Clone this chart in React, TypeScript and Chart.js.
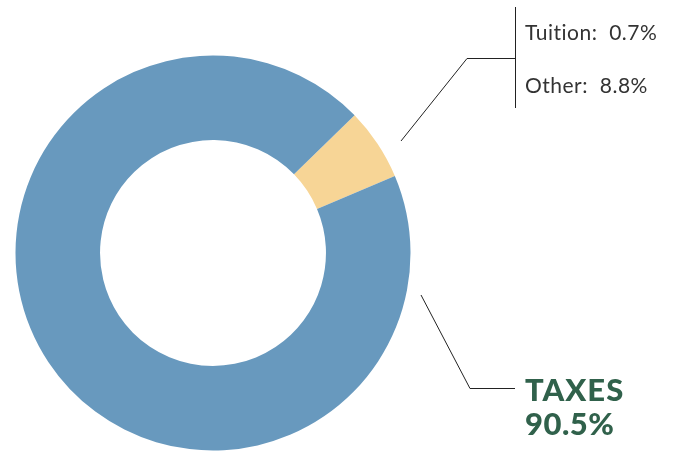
import { useEffect, useRef } from 'react';
import { Chart, registerables } from 'chart.js';
Chart.register(...registerables);

// Slice sizes as drawn in the picture (percent of the ring)
const categories = ['Other', 'Taxes'];
const drawnShares = [5.9, 94.1];
const sliceColors = ['#F7D596', '#6899BE'];

// Callout texts
const smallLabels = ['Tuition:  0.7%', 'Other:  8.8%'];
const taxesLabels = ['TAXES', '90.5%'];

const calloutPlugin = {
  id: 'callouts',
  afterDraw(chart: any) {
    const ctx = chart.ctx as CanvasRenderingContext2D;
    ctx.save();
    ctx.strokeStyle = '#222222';
    ctx.lineWidth = 1;
    // upper leader
    ctx.beginPath();
    ctx.moveTo(401, 141);
    ctx.lineTo(467, 58.5);
    ctx.lineTo(515, 58.5);
    ctx.stroke();
    ctx.beginPath();
    ctx.moveTo(515.5, 7);
    ctx.lineTo(515.5, 108);
    ctx.stroke();
    // lower leader
    ctx.beginPath();
    ctx.moveTo(421, 295);
    ctx.lineTo(470, 388.5);
    ctx.lineTo(515, 388.5);
    ctx.stroke();

    ctx.textBaseline = 'alphabetic';
    ctx.textAlign = 'left';
    ctx.fillStyle = '#333333';
    ctx.font = '21px Lato';
    (ctx as any).letterSpacing = '0.5px';
    ctx.fillText(smallLabels[0], 525, 40);
    ctx.fillText(smallLabels[1], 525, 93);

    ctx.fillStyle = '#30614B';
    ctx.font = '900 31px Lato';
    (ctx as any).letterSpacing = '1px';
    ctx.fillText(taxesLabels[0], 525, 401);
    (ctx as any).letterSpacing = '0.5px';
    ctx.fillText(taxesLabels[1], 525, 435);
    ctx.restore();
  },
};

export default function App() {
  const ref = useRef<HTMLCanvasElement>(null);
  useEffect(() => {
    document.body.style.margin = '0';
    const chart = new Chart(ref.current!, {
      type: 'doughnut',
      data: {
        labels: categories,
        datasets: [
          {
            data: drawnShares,
            backgroundColor: sliceColors,
            borderWidth: 0,
            hoverOffset: 0,
          },
        ],
      },
      options: {
        animation: false,
        responsive: false,
        rotation: 45.8,
        cutout: '57.2%',
        events: [],
        layout: { padding: { left: 15.5, top: 55.5, right: 270.5, bottom: 0.5 } },
        plugins: { legend: { display: false }, tooltip: { enabled: false } },
      },
      plugins: [calloutPlugin],
    });
    return () => chart.destroy();
  }, []);
  return (
    <div style={{ position: 'fixed', left: 0, top: 0, width: 681, height: 451, background: '#fff' }}>
      <canvas ref={ref} width={681} height={451} style={{ width: 681, height: 451, display: 'block' }} />
    </div>
  );
}
